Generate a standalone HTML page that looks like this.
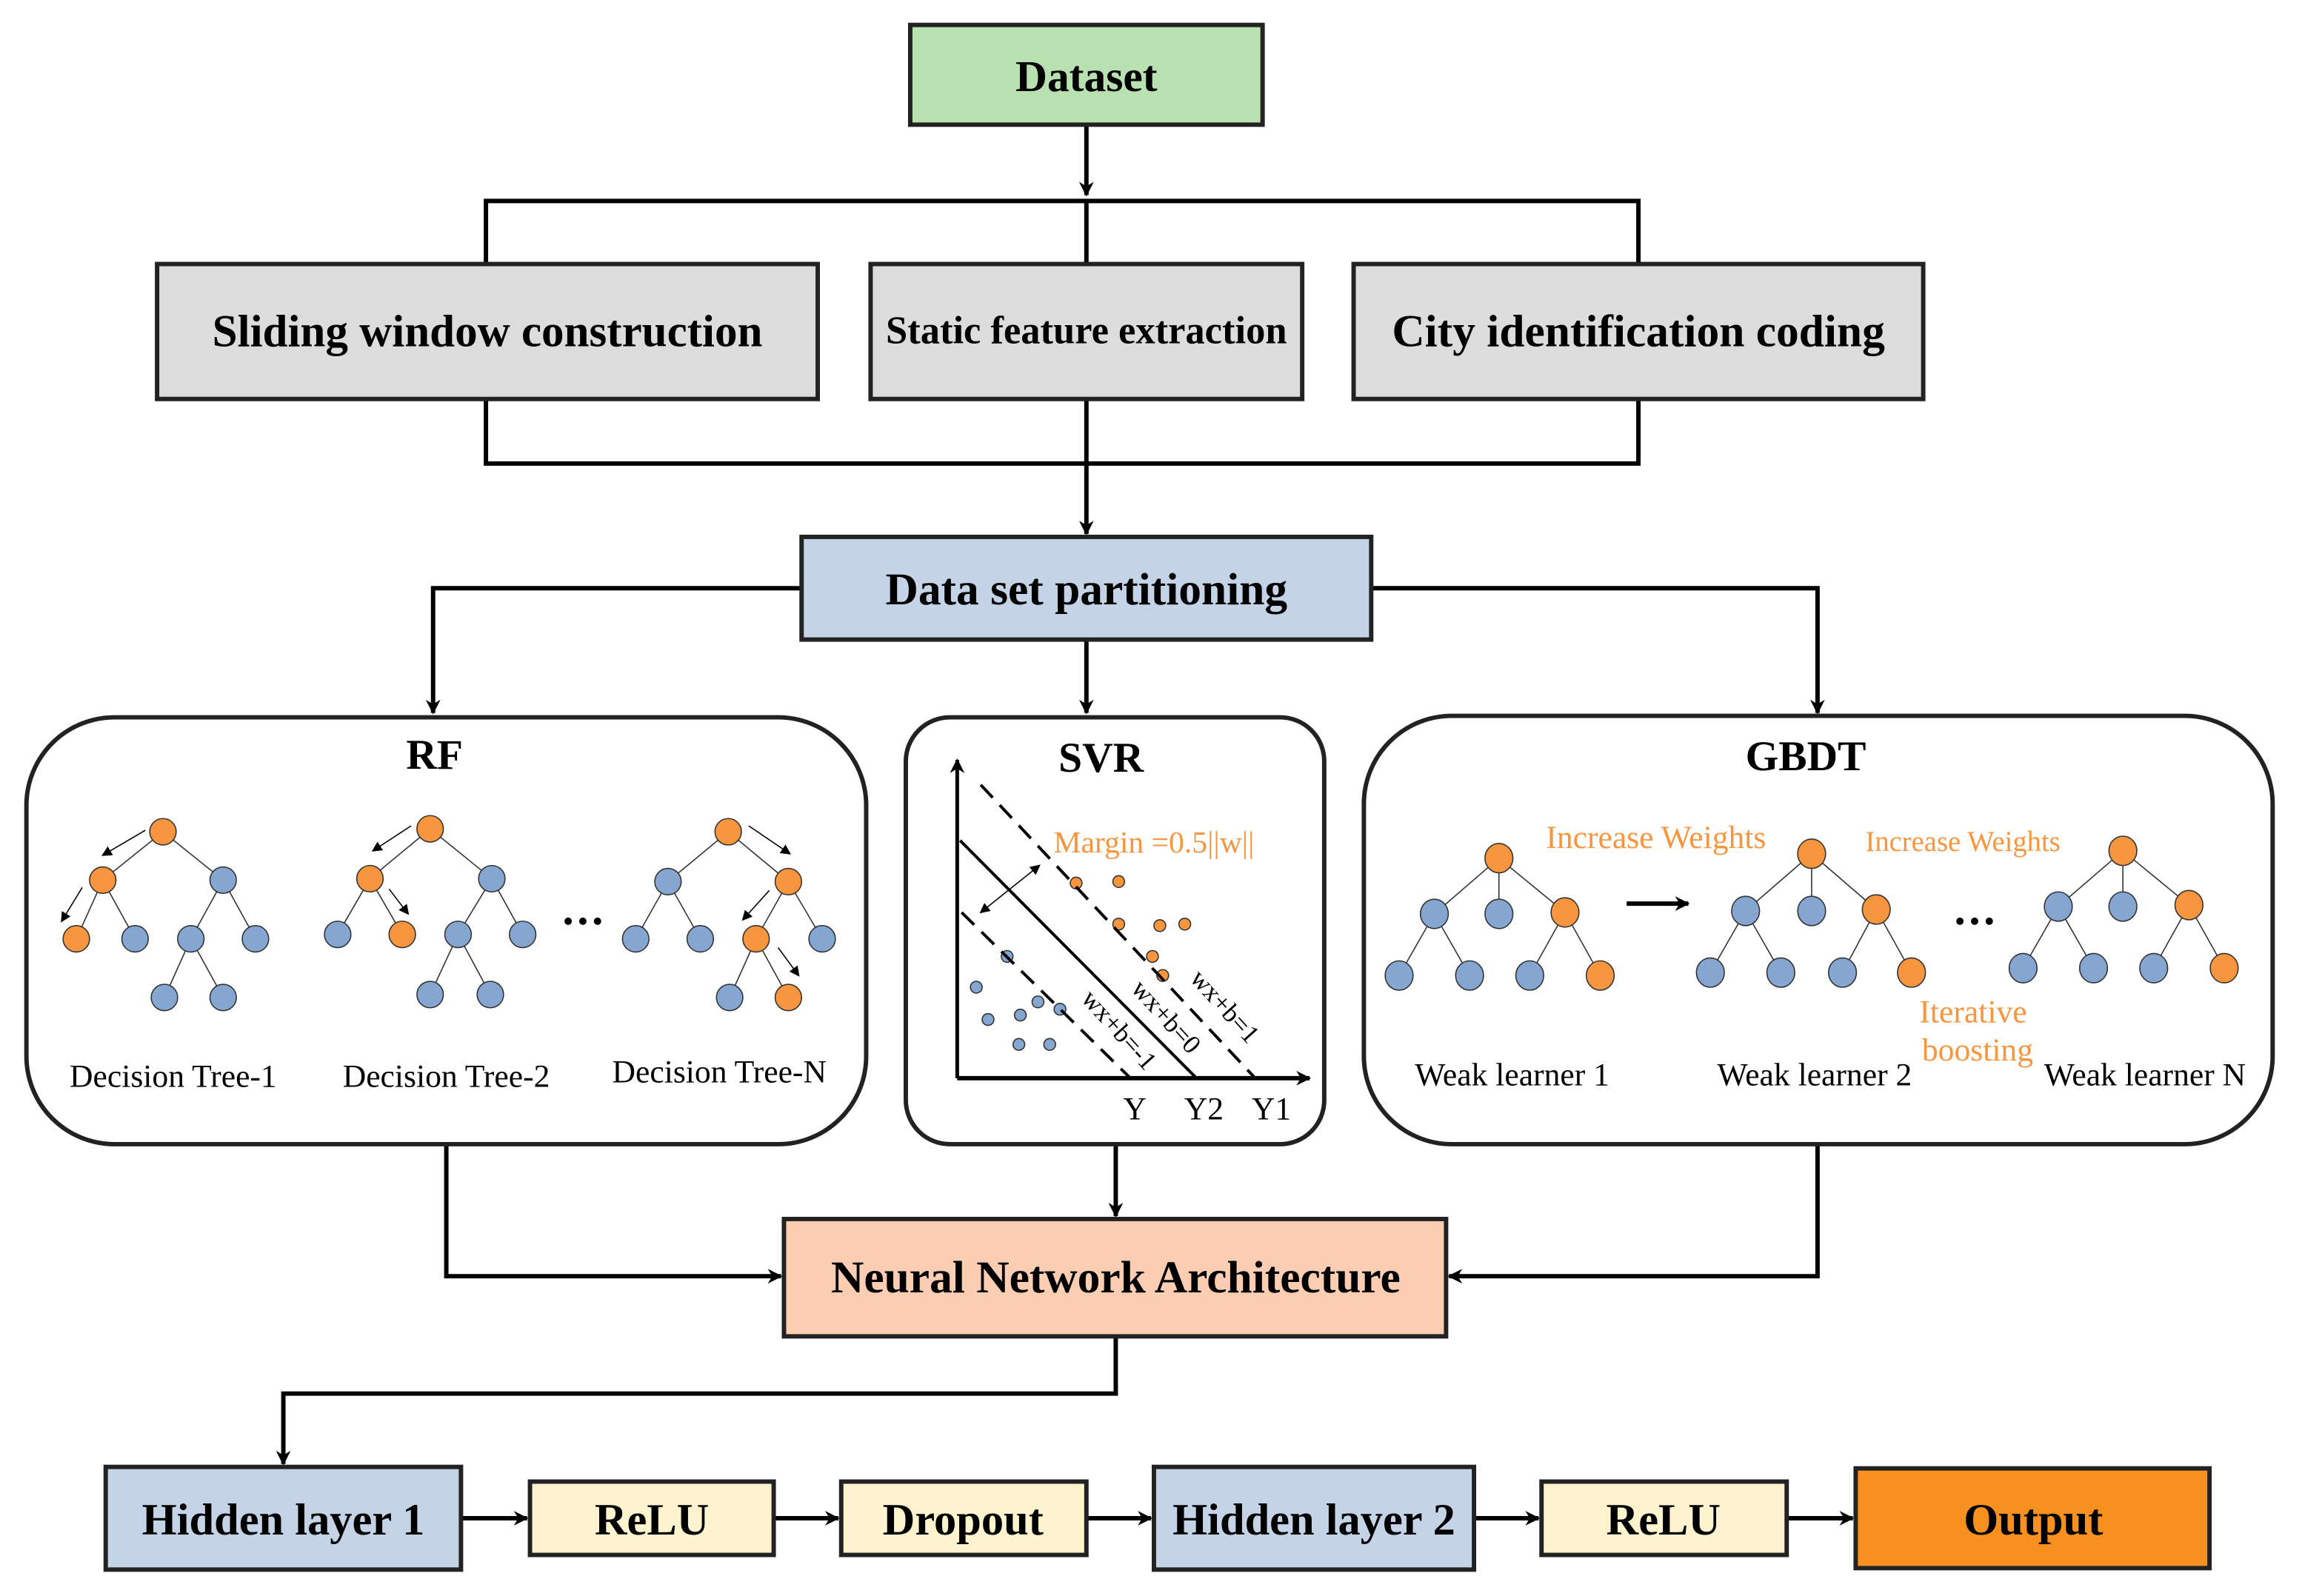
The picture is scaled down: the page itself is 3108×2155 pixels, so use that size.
<!DOCTYPE html>
<html><head><meta charset="utf-8"><style>html,body{margin:0;padding:0;background:#fff}svg{display:block}</style></head><body>
<svg width="3108" height="2155" viewBox="0 0 1568 1088" preserveAspectRatio="none" xmlns="http://www.w3.org/2000/svg" font-family="'Liberation Serif', serif">
<defs>
<marker id="ah" markerWidth="10" markerHeight="10" refX="9" refY="5" orient="auto" markerUnits="userSpaceOnUse"><path d="M0,0 L10,5 L0,10 L3,5 Z" fill="#000"/></marker>
<marker id="sa" markerWidth="7" markerHeight="7" refX="6" refY="3.5" orient="auto" markerUnits="userSpaceOnUse"><path d="M0,0 L7,3.5 L0,7 Z" fill="#000"/></marker>
</defs>
<g stroke="#000" stroke-width="3" fill="none">
<line x1="740" y1="85" x2="740" y2="133" marker-end="url(#ah)"/>
<polyline points="331,180 331,137 1116,137 1116,180"/>
<line x1="740" y1="137" x2="740" y2="180"/>
<polyline points="331,272 331,316 1116,316 1116,272"/>
<line x1="740" y1="272" x2="740" y2="364" marker-end="url(#ah)"/>
<polyline points="546,401 295,401 295,486" marker-end="url(#ah)"/>
<polyline points="934,401 1238,401 1238,486" marker-end="url(#ah)"/>
<line x1="740" y1="436" x2="740" y2="486" marker-end="url(#ah)"/>
<polyline points="304,780 304,870 532,870" marker-end="url(#ah)"/>
<line x1="760" y1="780" x2="760" y2="829" marker-end="url(#ah)"/>
<polyline points="1238,780 1238,870 987,870" marker-end="url(#ah)"/>
<polyline points="760,911 760,950 193,950 193,998" marker-end="url(#ah)"/>
<line x1="314" y1="1035" x2="359" y2="1035" marker-end="url(#ah)"/>
<line x1="527" y1="1035" x2="571" y2="1035" marker-end="url(#ah)"/>
<line x1="740" y1="1035" x2="784" y2="1035" marker-end="url(#ah)"/>
<line x1="1004" y1="1035" x2="1048" y2="1035" marker-end="url(#ah)"/>
<line x1="1217" y1="1035" x2="1262" y2="1035" marker-end="url(#ah)"/>
</g>
<g stroke="#222" stroke-width="3">
<rect x="620" y="17" width="240" height="68" fill="#b8e0b0"/>
<rect x="107" y="180" width="450" height="92" fill="#dcdcdc"/>
<rect x="593" y="180" width="294" height="92" fill="#dcdcdc"/>
<rect x="922" y="180" width="388" height="92" fill="#dcdcdc"/>
<rect x="546" y="366" width="388" height="70" fill="#c5d3e6"/>
<rect x="18" y="489" width="572" height="291" rx="60" fill="#fff"/>
<rect x="617" y="489" width="285" height="291" rx="30" fill="#fff"/>
<rect x="929" y="488" width="619" height="292" rx="60" fill="#fff"/>
<rect x="534" y="831" width="451" height="80" fill="#fbcdb3"/>
<rect x="72" y="1000" width="242" height="70" fill="#c5d3e6"/>
<rect x="361" y="1010" width="166" height="50" fill="#fdf3cf"/>
<rect x="573" y="1010" width="167" height="50" fill="#fdf3cf"/>
<rect x="786" y="1000" width="218" height="70" fill="#c5d3e6"/>
<rect x="1050" y="1010" width="167" height="50" fill="#fdf3cf"/>
<rect x="1264" y="1001" width="241" height="68" fill="#f7901e"/>
</g>
<g font-weight="bold" text-anchor="middle" fill="#000">
<text x="740" y="62" font-size="30">Dataset</text>
<text x="332" y="236" font-size="30.8">Sliding window construction</text>
<text x="740" y="234" font-size="26.5">Static feature extraction</text>
<text x="1116" y="236" font-size="31">City identification coding</text>
<text x="740" y="412" font-size="31">Data set partitioning</text>
<text x="296" y="524" font-size="29">RF</text>
<text x="750" y="526" font-size="29">SVR</text>
<text x="1230" y="525" font-size="29">GBDT</text>
<text x="760" y="881" font-size="31">Neural Network Architecture</text>
<text x="193" y="1046" font-size="30.5">Hidden layer 1</text>
<text x="444" y="1046" font-size="30.5">ReLU</text>
<text x="656" y="1046" font-size="30.5">Dropout</text>
<text x="895" y="1046" font-size="30.5">Hidden layer 2</text>
<text x="1133" y="1046" font-size="30.5">ReLU</text>
<text x="1385" y="1046" font-size="30.5">Output</text>
</g>
<g stroke="#333" stroke-width="0.8">
<path d="M111,567 L70,600 M111,567 L152,600 M70,600 L52,640 M70,600 L92,640 M152,600 L130,640 M152,600 L174,640 M130,640 L112,680 M130,640 L152,680"/>
<path d="M293,565 L252,599 M293,565 L335,599 M252,599 L230,637 M252,599 L274,637 M335,599 L312,637 M335,599 L356,637 M312,637 L293,678 M312,637 L334,678"/>
<path d="M496,567 L455,601 M496,567 L537,601 M455,601 L433,640 M455,601 L477,640 M537,601 L515,640 M537,601 L560,640 M515,640 L497,680 M515,640 L537,680"/>
<path d="M1021,585 L977,623 M1021,585 L1021,623 M1021,585 L1066,622 M977,623 L953,665 M977,623 L1001,665 M1066,622 L1042,665 M1066,622 L1090,665"/>
<path d="M1234,582 L1189,621 M1234,582 L1234,621 M1234,582 L1278,620 M1189,621 L1165,663 M1189,621 L1213,663 M1278,620 L1255,663 M1278,620 L1302,663"/>
<path d="M1446,580 L1402,618 M1446,580 L1446,618 M1446,580 L1491,617 M1402,618 L1378,660 M1402,618 L1426,660 M1491,617 L1467,660 M1491,617 L1515,660"/>
</g>
<g stroke="#333" stroke-width="0.8" fill="#85a6d0">
<circle cx="152" cy="600" r="9"/><circle cx="92" cy="640" r="9"/><circle cx="130" cy="640" r="9"/><circle cx="174" cy="640" r="9"/><circle cx="112" cy="680" r="9"/><circle cx="152" cy="680" r="9"/>
<circle cx="335" cy="599" r="9"/><circle cx="230" cy="637" r="9"/><circle cx="312" cy="637" r="9"/><circle cx="356" cy="637" r="9"/><circle cx="293" cy="678" r="9"/><circle cx="334" cy="678" r="9"/>
<circle cx="455" cy="601" r="9"/><circle cx="433" cy="640" r="9"/><circle cx="477" cy="640" r="9"/><circle cx="560" cy="640" r="9"/><circle cx="497" cy="680" r="9"/>
<ellipse cx="977" cy="623" rx="9.5" ry="10"/><ellipse cx="1021" cy="623" rx="9.5" ry="10"/><ellipse cx="953" cy="665" rx="9.5" ry="10"/><ellipse cx="1001" cy="665" rx="9.5" ry="10"/><ellipse cx="1042" cy="665" rx="9.5" ry="10"/>
<ellipse cx="1189" cy="621" rx="9.5" ry="10"/><ellipse cx="1234" cy="621" rx="9.5" ry="10"/><ellipse cx="1165" cy="663" rx="9.5" ry="10"/><ellipse cx="1213" cy="663" rx="9.5" ry="10"/><ellipse cx="1255" cy="663" rx="9.5" ry="10"/>
<ellipse cx="1402" cy="618" rx="9.5" ry="10"/><ellipse cx="1446" cy="618" rx="9.5" ry="10"/><ellipse cx="1378" cy="660" rx="9.5" ry="10"/><ellipse cx="1426" cy="660" rx="9.5" ry="10"/><ellipse cx="1467" cy="660" rx="9.5" ry="10"/>
<circle cx="686" cy="652" r="4"/><circle cx="665" cy="673" r="4"/><circle cx="673" cy="695" r="4"/><circle cx="695" cy="692" r="4"/><circle cx="707" cy="683" r="4"/><circle cx="722" cy="688" r="4"/><circle cx="694" cy="712" r="4"/><circle cx="715" cy="712" r="4"/>
</g>
<g stroke="#333" stroke-width="0.8" fill="#f7963e">
<circle cx="111" cy="567" r="9"/><circle cx="70" cy="600" r="9"/><circle cx="52" cy="640" r="9"/>
<circle cx="293" cy="565" r="9"/><circle cx="252" cy="599" r="9"/><circle cx="274" cy="637" r="9"/>
<circle cx="496" cy="567" r="9"/><circle cx="537" cy="601" r="9"/><circle cx="515" cy="640" r="9"/><circle cx="537" cy="680" r="9"/>
<ellipse cx="1021" cy="585" rx="9.5" ry="10"/><ellipse cx="1066" cy="622" rx="9.5" ry="10"/><ellipse cx="1090" cy="665" rx="9.5" ry="10"/>
<ellipse cx="1234" cy="582" rx="9.5" ry="10"/><ellipse cx="1278" cy="620" rx="9.5" ry="10"/><ellipse cx="1302" cy="663" rx="9.5" ry="10"/>
<ellipse cx="1446" cy="580" rx="9.5" ry="10"/><ellipse cx="1491" cy="617" rx="9.5" ry="10"/><ellipse cx="1515" cy="660" rx="9.5" ry="10"/>
<circle cx="733" cy="602" r="4"/><circle cx="762" cy="601" r="4"/><circle cx="762" cy="630" r="4"/><circle cx="790" cy="631" r="4"/><circle cx="785" cy="652" r="4"/><circle cx="807" cy="630" r="4"/><circle cx="792" cy="665" r="4"/>
</g>
<g stroke="#000" stroke-width="0.8">
<line x1="99" y1="566" x2="70" y2="583" marker-end="url(#sa)"/>
<line x1="56" y1="605" x2="42" y2="628" marker-end="url(#sa)"/>
<line x1="280" y1="563" x2="254" y2="580" marker-end="url(#sa)"/>
<line x1="265" y1="606" x2="278" y2="623" marker-end="url(#sa)"/>
<line x1="510" y1="563" x2="538" y2="582" marker-end="url(#sa)"/>
<line x1="524" y1="607" x2="506" y2="627" marker-end="url(#sa)"/>
<line x1="530" y1="646" x2="544" y2="665" marker-end="url(#sa)"/>
</g>
<g fill="#000"><circle cx="387" cy="628" r="2.5"/><circle cx="397" cy="628" r="2.5"/><circle cx="407" cy="628" r="2.5"/>
<circle cx="1335" cy="628" r="2.5"/><circle cx="1345" cy="628" r="2.5"/><circle cx="1355" cy="628" r="2.5"/></g>
<line x1="1108" y1="616" x2="1150" y2="616" stroke="#000" stroke-width="3" marker-end="url(#ah)"/>
<g stroke="#000" fill="none">
<line x1="652" y1="735" x2="652" y2="518" stroke-width="2.5" marker-end="url(#ah)"/>
<line x1="652" y1="735" x2="892" y2="735" stroke-width="3" marker-end="url(#ah)"/>
<line x1="654" y1="573" x2="815" y2="735" stroke-width="2"/>
<line x1="668" y1="535" x2="855" y2="735" stroke-width="2" stroke-dasharray="12,7"/>
<line x1="655" y1="622" x2="770" y2="735" stroke-width="2" stroke-dasharray="12,7"/>
<line x1="688" y1="606" x2="708" y2="590" stroke-width="0.8" marker-end="url(#sa)"/>
<line x1="688" y1="606" x2="668" y2="622" stroke-width="0.8" marker-end="url(#sa)"/>
</g>
<g font-size="18" fill="#000">
<text x="830" y="690" transform="rotate(48 830 690)" text-anchor="middle">wx+b=1</text>
<text x="790" y="697" transform="rotate(48 790 697)" text-anchor="middle">wx+b=0</text>
<text x="758" y="706" transform="rotate(48 758 706)" text-anchor="middle">wx+b=-1</text>
</g>
<g font-size="22" fill="#000" text-anchor="middle">
<text x="773" y="763">Y</text><text x="820" y="763">Y2</text><text x="866" y="763">Y1</text>
<text x="118" y="741">Decision Tree-1</text><text x="304" y="741">Decision Tree-2</text><text x="490" y="738">Decision Tree-N</text>
<text x="1030" y="740">Weak learner 1</text><text x="1236" y="740">Weak learner 2</text><text x="1461" y="740">Weak learner N</text>
</g>
<g fill="#f7963e" text-anchor="middle">
<text x="786" y="581" font-size="21">Margin =0.5||w||</text>
<text x="1128" y="578" font-size="22">Increase Weights</text>
<text x="1337" y="580" font-size="19.5">Increase Weights</text>
<text x="1344" y="697" font-size="22">Iterative</text>
<text x="1347" y="723" font-size="22">boosting</text>
</g>
</svg>
</body></html>
